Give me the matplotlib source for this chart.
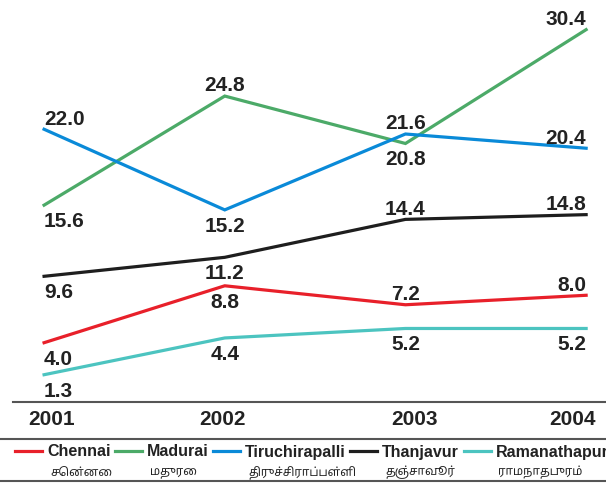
import matplotlib.pyplot as plt
import matplotlib.transforms as mtransforms
from matplotlib.lines import Line2D

plt.rcParams['font.family'] = ['Liberation Sans', 'DejaVu Sans']

# data
years = ["2001", "2002", "2003", "2004"]
cities = ["Chennai", "Madurai", "Tiruchirapalli", "Thanjavur", "Ramanathapuram"]
tamil_names = ["சென்னை", "மதுரை", "திருச்சிராப்பள்ளி", "தஞ்சாவூர்", "ராமநாதபுரம்"]
chennai = [4.0, 8.8, 7.2, 8.0]
madurai = [15.6, 24.8, 20.8, 30.4]
tiruchirapalli = [22.0, 15.2, 21.6, 20.4]
thanjavur = [9.6, 11.2, 14.4, 14.8]
ramanathapuram = [1.3, 4.4, 5.2, 5.2]

series = [chennai, madurai, tiruchirapalli, thanjavur, ramanathapuram]
colors = ["#e8202a", "#4caa68", "#0a8ad8", "#1e1e1e", "#4cc4c0"]
# +1 = label above the point, -1 = below
label_side = [
    [-1, -1, 1, 1],
    [-1, 1, -1, 1],
    [1, -1, 1, 1],
    [-1, -1, 1, 1],
    [-1, -1, -1, -1],
]
x = list(range(len(years)))
ha_list = ["left", "center", "center", "right"]

fig = plt.figure(figsize=(6.06, 4.83), dpi=100)
ax = fig.add_axes([13 / 606, 1 - 402 / 483, 1 - 13 / 606, 402 / 483])

for vals, col, sides in zip(series, colors, label_side):
    ax.plot(x, vals, color=col, lw=2.3, solid_joinstyle="miter")
    for xi, v, s, ha in zip(x, vals, sides, ha_list):
        ax.annotate(f"{v:.1f}", (xi, v), xytext=(0, 0.5 if s > 0 else -5),
                    textcoords="offset points", ha=ha,
                    va="bottom" if s > 0 else "top",
                    fontsize=15, fontweight="bold", color="#222222")

ax.set_xlim(-0.172, 3.11)
ax.set_ylim(-1.0, 32.9)
ax.set_yticks([])
ax.set_xticks(x)
ax.set_xticklabels(years, fontsize=15, fontweight="bold", color="#222222")
ax.tick_params(axis="x", length=0, pad=6)
# nudge year labels like the original
shifts = [7, -2, 9, -14]
for lab, dx in zip(ax.get_xticklabels(), shifts):
    lab.set_transform(lab.get_transform() +
                      mtransforms.ScaledTranslation(dx / 100, 0, fig.dpi_scale_trans))
for side in ["top", "right", "left"]:
    ax.spines[side].set_visible(False)
ax.spines["bottom"].set_color("#555555")
ax.spines["bottom"].set_linewidth(1.5)

# legend band with two grey rules
for yy in [1 - 439 / 483, 1 - 481 / 483]:
    fig.add_artist(Line2D([0, 1], [yy, yy], transform=fig.transFigure,
                          color="#555555", lw=1.5))

handles = [Line2D([], [], color=c, lw=2.3) for c in colors]
leg = fig.legend(handles, cities, loc="center left", ncol=5,
                 bbox_to_anchor=(15 / 606, 1 - 452 / 483), frameon=False,
                 prop={"weight": "bold", "size": 11.5},
                 handlelength=1.7, handletextpad=0.3, columnspacing=0.28,
                 borderaxespad=0, borderpad=0)
for t in leg.get_texts():
    t.set_color("#222222")

fig.canvas.draw()
inv = fig.transFigure.inverted()
for t, tam in zip(leg.get_texts(), tamil_names):
    bb = t.get_window_extent()
    fx, fy = inv.transform((bb.x0 + 3, bb.y0))
    fig.text(fx, fy - 0.013, tam, ha="left", va="top", fontsize=8.5,
             color="#222222", family=["Noto Sans Tamil", "Lohit Tamil", "DejaVu Sans"])

fig.savefig("out.png", dpi=100)
